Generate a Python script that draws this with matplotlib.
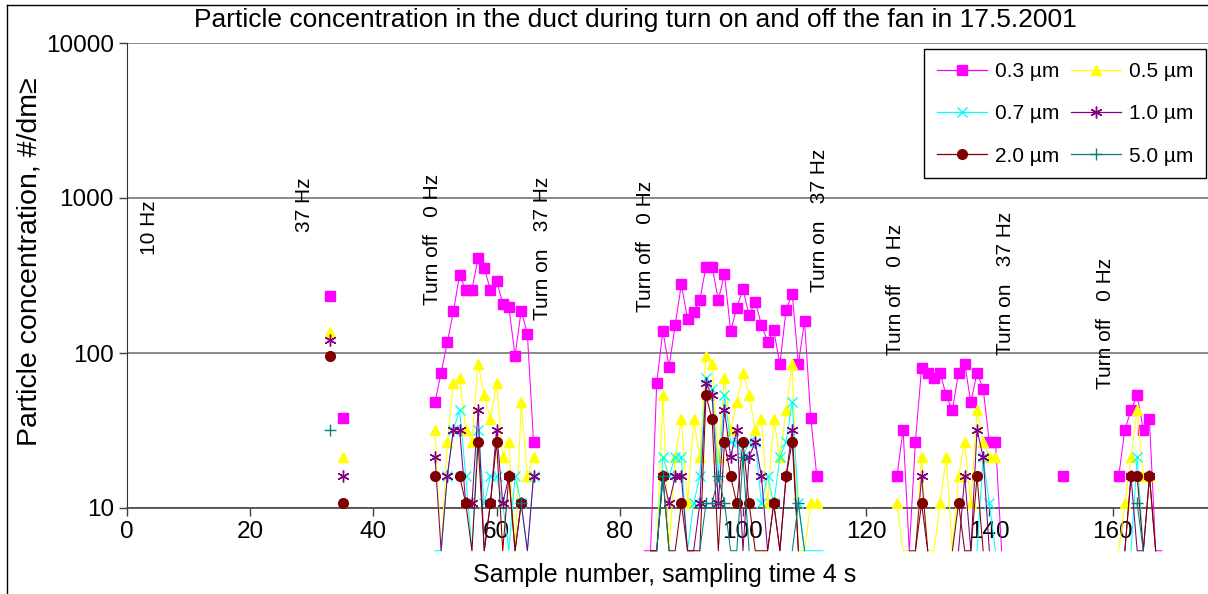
import numpy as np
import matplotlib.pyplot as plt
from matplotlib.lines import Line2D

plt.rcParams['font.family'] = ['Liberation Sans', 'DejaVu Sans']

# Particle concentrations (#/dm3), keyed by first sample number of each run
# None = no value; 5.3 = one count (drawn below the 10 axis like in Excel)
p03 = {
    33: [234, None, 38.3],
    50: [48, 74.7, 117, 186, 320, 256, 256, 410, 352, 256, 293, 208, 197, 96, 187, 133, 26.7],
    84: [5.3, 5.3, 64, 139, 81, 152, 277, 166, 185, 220, 360, 360, 220, 322, 139, 196, 258,
         176, 214, 152, 118, 140, 85, 189, 241, 85, 161, 38.3, 16],
    125: [16, 32, 5.3, 26.7, 80, 74.7, 69.3, 74.7, 53.3, 42.7, 74.7, 85.3, 48, 74.7, 58.7,
          26.7, 26.7, 5.3],
    152: [16],
    161: [16, 32, 42.7, 53.3, 32, 37.3, 5.3, 5.3],
}
p05 = {
    33: [136, None, 21.3],
    50: [32, 5.3, 26.7, 64, 69.3, 32, 26.7, 85.3, 53.3, 37.3, 64, 21.3, 26.7, 5.3, 48, 16, 21.3],
    85: [5.3, 5.3, 53.3, 5.3, 21.3, 37.3, 10.7, 37.3, 21.3, 96, 85.3, 21.3, 69.3, 32, 48, 74.7,
         53.3, 32, 37.3, 10.7, 37.3, 21.3, 42.7, 85.3, 5.3, 5.3, 10.7, 10.7],
    125: [10.7, 5.3, 5.3, 5.3, 21.3, 5.3, 5.3, 10.7, 21.3, 5.3, 16, 26.7, 10.7, 42.7, 26.7,
          21.3, 21.3],
    161: [5.3, 10.7, 21.3, 42.7, 16, 16, 5.3],
}
p07 = {
    50: [5.3, 5.3, 16, 32, 42.7, 16, 5.3, 32, 10.7, 16, 16, 10.7, 5.3, 16, 10.7, 5.3, 16],
    85: [5.3, 5.3, 21.3, 16, 21.3, 21.3, 5.3, 10.7, 16, 69.3, 58.7, 16, 53.3, 26.7, 26.7, 21.3,
         26.7, 26.7, 10.7, 16, 10.7, 21.3, 26.7, 48, 10.7, 5.3, 5.3, 5.3, 5.3],
    138: [5.3, 21.3, 10.7, 5.3],
    163: [5.3, 21.3, 5.3],
}
p10 = {
    33: [121, None, 16],
    50: [21.3, 5.3, 16, 32, 32, 10.7, 10.7, 42.7, 5.3, 10.7, 32, 10.7, 16, 5.3, 10.7, 5.3, 16],
    85: [5.3, 5.3, 16, 10.7, 16, 16, 5.3, 5.3, 10.7, 64, 53.3, 10.7, 42.7, 21.3, 32, 5.3, 21.3,
         26.7, 16, 5.3, 10.7, 5.3, 16, 32, 5.3],
    127: [5.3, 5.3, 16, 5.3, None, None, None, None, 5.3, 16, 5.3, 32, 21.3, 5.3],
    162: [5.3, 16, 5.3, 5.3, 16, 5.3],
}
p20 = {
    33: [96, None, 10.7],
    50: [16, None, None, None, 16, 10.7, 5.3, 26.7, 5.3, 10.7, 26.7, 5.3, 16, 5.3, 10.7],
    85: [5.3, 5.3, 16, 5.3, 5.3, 10.7, 5.3, 5.3, 5.3, 53.3, 37.3, 5.3, 26.7, 16, 10.7, 26.7,
         10.7, 5.3, 5.3, 5.3, 10.7, 5.3, 16, 26.7, 5.3],
    128: [5.3, 10.7, 5.3, None, None, None, 5.3, 10.7, 5.3, 5.3, 16, 5.3],
    162: [5.3, 16, 16, 5.3, 16, 5.3],
}
p50 = {
    33: [32],
    64: [10.7],
    86: [5.3, 16, 5.3],
    93: [5.3, 10.7, 10.7, 16, 10.7, 5.3, 5.3, 21.3, 5.3],
    108: [5.3, 10.7, 5.3],
    164: [10.7, 5.3],
}

series = [p03, p05, p07, p10, p20, p50]
labels = ['0.3 µm', '0.5 µm', '0.7 µm', '1.0 µm', '2.0 µm', '5.0 µm']
colors = ['#ff00ff', '#ffff00', '#00ffff', '#800080', '#800000', '#008080']
markers = ['s', '^', 'x', (6, 2, 0), 'o', '+']
msizes = [6.5, 7.5, 7, 8.5, 7, 8]

notes = ['10 Hz', '37 Hz', 'Turn off   0 Hz', 'Turn on   37 Hz', 'Turn off   0 Hz',
         'Turn on   37 Hz', 'Turn off   0 Hz', 'Turn on   37 Hz', 'Turn off   0 Hz']
note_x = [3.6, 28.8, 49.6, 67.5, 84.1, 112.5, 124.7, 142.6, 158.8]
note_y = [428, 604, 204, 163, 184, 248, 97, 97, 59]

fig = plt.figure(figsize=(12.08, 5.94), dpi=100)
ax = fig.add_axes([127 / 1208, 1 - 508 / 594, 1081 / 1208, 465 / 594])

for i, (data, col, mk, ms) in enumerate(zip(series, colors, markers, msizes)):
    for start, vals in data.items():
        x = np.arange(start, start + len(vals))
        y = np.array([np.nan if v is None else v for v in vals], dtype=float)
        ax.plot(x, y, color=col, lw=0.75, clip_on=False, zorder=3 + i)
        ax.plot(x, y, ls='none', marker=mk, ms=ms, color=col, mec=col, mew=1.0,
                zorder=3.5 + i)

ax.set_yscale('log')
ax.set_ylim(10, 10000)
ax.set_xlim(0, 175.5)
ax.set_yticks([10, 100, 1000, 10000])
ax.set_yticklabels(['10', '100', '1000', '10000'])
ax.yaxis.set_minor_locator(plt.NullLocator())
ax.set_xticks(range(0, 161, 20))
ax.tick_params(labelsize=17.5, direction='out', length=6, width=1, color='#404040')
ax.grid(axis='y', color='#808080', lw=1.3)
for side in ['top', 'right']:
    ax.spines[side].set_visible(False)
ax.spines['left'].set_color('#303030')
ax.spines['bottom'].set_color('#505050')
ax.spines['bottom'].set_linewidth(1.3)

for txt, nx, ny in zip(notes, note_x, note_y):
    ax.text(nx, ny, txt, rotation=90, ha='center', va='bottom', fontsize=15)

handles = [Line2D([], [], color=c, marker=m, ms=s, mec=c, lw=0.9)
           for c, m, s in zip(colors, markers, msizes)]
# legend is filled row by row in the reference
order = [0, 2, 4, 1, 3, 5]
leg = ax.legend([handles[k] for k in order], [labels[k] for k in order], ncol=2,
                loc='upper right', fontsize=15,
                bbox_to_anchor=(1206 / 1208, 1 - 49 / 594), bbox_transform=fig.transFigure,
                borderaxespad=0, fancybox=False, framealpha=1, edgecolor='black',
                handlelength=2.4, handletextpad=0.35, columnspacing=0.6,
                labelspacing=1.12, borderpad=0.62)
leg.get_frame().set_linewidth(1.0)
leg.set_zorder(20)

fig.text(635 / 1208, 1 - 20 / 594,
         'Particle concentration in the duct during turn on and off the fan in 17.5.2001',
         ha='center', va='center', fontsize=19)
fig.text(30 / 1208, 1 - 262 / 594, 'Particle concentration, #/dm≥', rotation=90,
         ha='center', va='center', fontsize=20.5)
fig.text(665 / 1208, 1 - 575 / 594, 'Sample number, sampling time 4 s',
         ha='center', va='center', fontsize=18)

# chart area border
fig.add_artist(Line2D([7 / 1208, 7 / 1208], [0, 1 - 5 / 594], color='black', lw=1))
fig.add_artist(Line2D([7 / 1208, 1], [1 - 5 / 594, 1 - 5 / 594], color='black', lw=1))

fig.savefig('out.png', dpi=100)
